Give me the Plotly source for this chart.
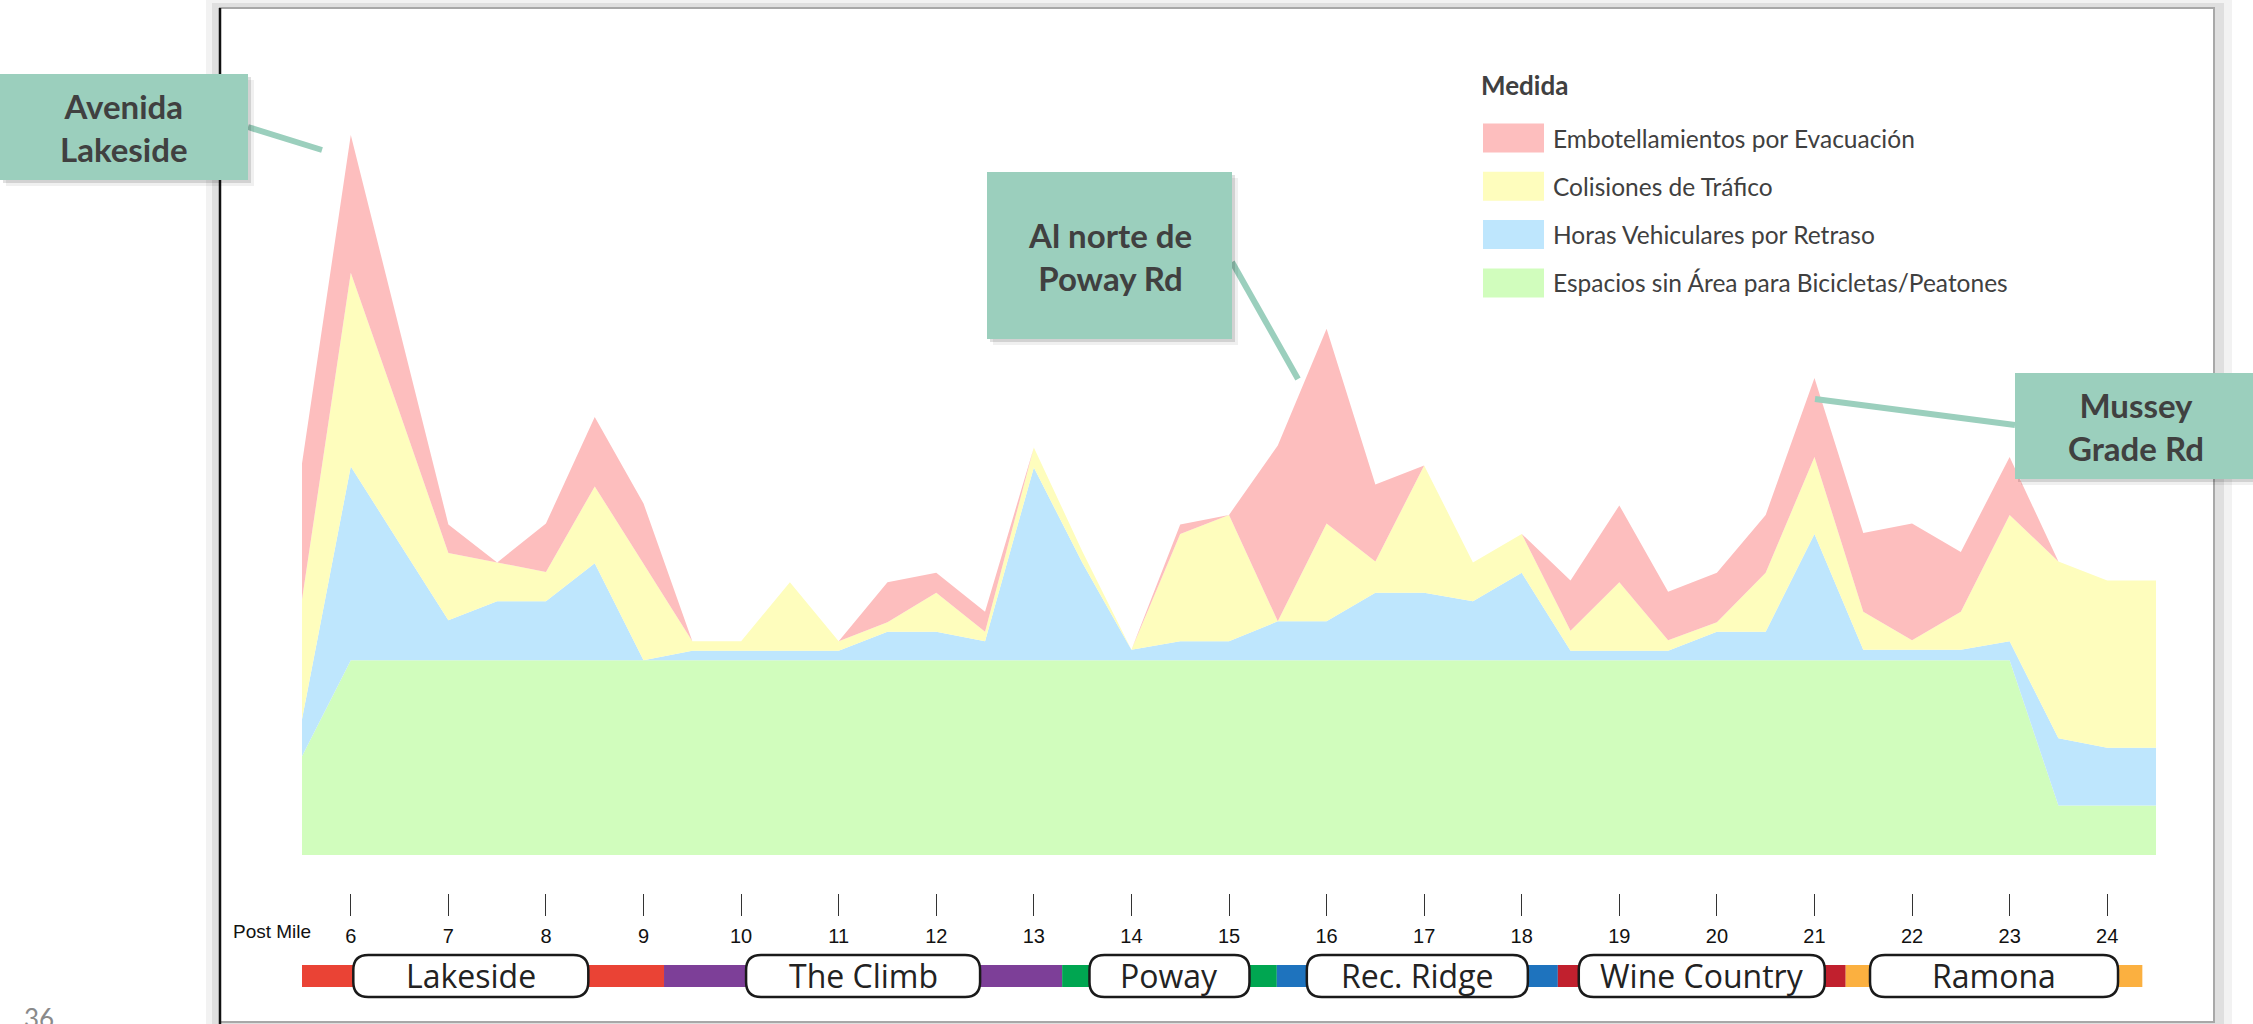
import plotly.graph_objects as go

# --------------------------
# Data (post mile, half-mile steps; stacked index units)
# --------------------------

post_mile = [5.5, 6, 6.5, 7, 7.5, 8, 8.5, 9, 9.5, 10, 10.5, 11, 11.5, 12, 12.5,
             13, 13.5, 14, 14.5, 15, 15.5, 16, 16.5, 17, 17.5, 18, 18.5, 19,
             19.5, 20, 20.5, 21, 21.5, 22, 22.5, 23, 23.5, 24, 24.5]

bike_ped_gaps = [10.4] + [20.5] * 35 + [5.2, 5.2, 5.2]

delay_hours = [3.9, 20.4, 12.3, 4.2, 6.2, 6.2, 10.2, 0, 1.0, 1.0, 1.0, 1.0, 3.0,
               3.0, 2.0, 20.3, 10.2, 1.1, 2.0, 2.0, 4.1, 4.1, 7.1, 7.1, 6.2,
               9.2, 1.0, 1.0, 1.0, 3.0, 3.0, 13.3, 1.1, 1.1, 1.1, 2.0, 7.1,
               6.1, 6.1]

collisions = [12.6, 20.4, 13.8, 7.1, 4.1, 3.1, 8.1, 10.1, 1.0, 1.0, 7.2, 1.0,
              1.0, 4.1, 1.0, 2.1, 1.2, 0, 11.3, 13.3, 0, 10.3, 3.3, 13.4, 4.1,
              4.1, 2.1, 7.2, 1.1, 1.0, 6.2, 8.1, 4.0, 1.0, 4.0, 13.3, 18.6,
              17.6, 17.6]

evac_bottlenecks = [14.3, 14.5, 8.7, 3.0, 0, 5.1, 7.3, 6.4, 0, 0, 0, 0, 4.2,
                    2.1, 2.1, 0, 0, 0, 1.0, 0, 18.5, 20.5, 8.1, 0, 0, 0, 5.3,
                    8.1, 5.1, 5.2, 6.1, 8.3, 8.3, 12.3, 6.3, 6.1, 0, 0, 0]

series_names = ["Espacios sin Área para Bicicletas/Peatones",
                "Horas Vehiculares por Retraso",
                "Colisiones de Tráfico",
                "Embotellamientos por Evacuación"]

segment_names = ["Lakeside", "The Climb", "Poway", "Rec. Ridge",
                 "Wine Country", "Ramona"]
segment_start = [5.25, 9.21, 13.29, 15.49, 18.37, 21.32]
segment_end = [9.21, 13.29, 15.49, 18.37, 21.32, 24.36]

callout_texts = ["Avenida<br>Lakeside", "Al norte de<br>Poway Rd",
                 "Mussey<br>Grade Rd"]

# --------------------------
# Styles
# --------------------------

W, H = 2253, 1024
series_colors = ["#D1FDBD", "#BEE6FD", "#FEFDBD", "#FDBEBE"]
segment_colors = ["#EA4335", "#7D3F98", "#00A651", "#1E73BE", "#C1202E",
                  "#FBB040"]
pill_widths = [235, 234, 160, 221, 246, 248]
teal = "#9BCFBD"
dark = "#404040"

x_dom = [302 / W, 2156 / W]
y_dom = [(H - 855) / H, (H - 120) / H]
y_top = 735 / 9.5
mile_px = (x_dom[1] - x_dom[0]) * W / (post_mile[-1] - post_mile[0])


def px(x):
    return x / W


def py(y):
    return 1 - y / H


fig = go.Figure()

# --------------------------
# Stacked areas
# --------------------------

values = [bike_ped_gaps, delay_hours, collisions, evac_bottlenecks]
for name, vals, color in zip(series_names, values, series_colors):
    fig.add_trace(
        go.Scatter(
            x=post_mile,
            y=vals,
            name=name,
            mode="lines",
            stackgroup="medida",
            line=dict(width=0, color=color),
            fillcolor=color,
            showlegend=False
        )
    )

shapes = []
annotations = []

# --------------------------
# Slide panel with shadow
# --------------------------

shapes.append(dict(type="rect", xref="paper", yref="paper", layer="below",
                   x0=px(206), x1=px(2232), y0=py(1030), y1=py(-2),
                   fillcolor="rgba(0,0,0,0.05)", line=dict(width=0)))
shapes.append(dict(type="rect", xref="paper", yref="paper", layer="below",
                   x0=px(212), x1=px(2224), y0=py(1028), y1=py(3),
                   fillcolor="rgba(0,0,0,0.08)", line=dict(width=0)))
shapes.append(dict(type="rect", xref="paper", yref="paper", layer="below",
                   x0=px(220), x1=px(2214), y0=py(1022), y1=py(8),
                   fillcolor="white", line=dict(color="#A8A8A8", width=2)))
shapes.append(dict(type="line", xref="paper", yref="paper", layer="below",
                   x0=px(220), x1=px(220), y0=py(1024), y1=py(8),
                   line=dict(color="#111111", width=2.5)))

# --------------------------
# Legend
# --------------------------

annotations.append(dict(xref="paper", yref="paper", x=px(1479), y=py(85),
                        xanchor="left", yanchor="middle", showarrow=False,
                        text="<b>Medida</b>",
                        font=dict(family="Lato", size=26, color=dark)))
legend_items = list(zip(series_names, series_colors))[::-1]
for i, (name, color) in enumerate(legend_items):
    yc = 138 + 48.3 * i
    shapes.append(dict(type="rect", xref="paper", yref="paper",
                       x0=px(1483), x1=px(1544), y0=py(yc + 14.5),
                       y1=py(yc - 14.5), fillcolor=color, line=dict(width=0)))
    annotations.append(dict(xref="paper", yref="paper", x=px(1551), y=py(yc),
                            xanchor="left", yanchor="middle", showarrow=False,
                            text=name,
                            font=dict(family="Lato", size=24.5, color=dark)))

# --------------------------
# Route segments
# --------------------------

r = 15
rx = r / mile_px
ry = r / H
for name, s, e, color, w in zip(segment_names, segment_start, segment_end,
                                segment_colors, pill_widths):
    shapes.append(dict(type="rect", xref="x", yref="paper", x0=s, x1=e,
                       y0=py(987), y1=py(965), fillcolor=color,
                       line=dict(width=0)))
    c = (s + e) / 2
    half = w / 2 / mile_px
    x0, x1 = c - half, c + half
    y0, y1 = py(997), py(955)
    path = (f"M{x0 + rx},{y1} L{x1 - rx},{y1} Q{x1},{y1} {x1},{y1 - ry} "
            f"L{x1},{y0 + ry} Q{x1},{y0} {x1 - rx},{y0} L{x0 + rx},{y0} "
            f"Q{x0},{y0} {x0},{y0 + ry} L{x0},{y1 - ry} Q{x0},{y1} {x0 + rx},{y1} Z")
    shapes.append(dict(type="path", xref="x", yref="paper", path=path,
                       fillcolor="white", line=dict(color="#1A1A1A", width=2.5)))
    annotations.append(dict(xref="x", yref="paper", x=c, y=py(975),
                            xanchor="center", yanchor="middle",
                            showarrow=False, text=name,
                            font=dict(family="Open Sans", size=32,
                                      color="#222222")))

annotations.append(dict(xref="paper", yref="paper", x=px(231), y=py(931),
                        xanchor="left", yanchor="middle", showarrow=False,
                        text="Post Mile",
                        font=dict(family="Liberation Sans Narrow, Liberation Sans",
                                  size=19, color="#111111")))

annotations.append(dict(xref="paper", yref="paper", x=px(22), y=py(1000),
                        xanchor="left", yanchor="top", showarrow=False,
                        text="36",
                        font=dict(family="Lato", size=26, color="#8A8A8A")))

# --------------------------
# Callouts
# --------------------------

callout_boxes = [(0, 74, 248, 180), (987, 172, 1232, 339),
                 (2015, 373, 2260, 479)]
callout_lines = [(248, 127, 322, 150), (1232, 262, 1298, 379),
                 (2015, 425, 1815, 399)]
callout_centers = [(124, 127), (1110, 256), (2136, 426)]

for text, box, ln, cen in zip(callout_texts, callout_boxes, callout_lines,
                              callout_centers):
    shapes.append(dict(type="line", xref="paper", yref="paper",
                       x0=px(ln[0]), y0=py(ln[1]), x1=px(ln[2]), y1=py(ln[3]),
                       line=dict(color=teal, width=6)))
    for off, alpha in [(6, 0.06), (3, 0.12)]:
        shapes.append(dict(type="rect", xref="paper", yref="paper",
                           x0=px(box[0] + off), x1=px(box[2] + off),
                           y0=py(box[3] + off), y1=py(box[1] + off),
                           fillcolor=f"rgba(0,0,0,{alpha})",
                           line=dict(width=0)))
    shapes.append(dict(type="rect", xref="paper", yref="paper",
                       x0=px(box[0]), x1=px(box[2]),
                       y0=py(box[3]), y1=py(box[1]),
                       fillcolor=teal, line=dict(width=0)))
    annotations.append(dict(xref="paper", yref="paper", x=px(cen[0]),
                            y=py(cen[1]), xanchor="center", yanchor="middle",
                            showarrow=False,
                            text=f"<b>{text}</b>",
                            font=dict(family="Lato", size=33, color=dark)))

# --------------------------
# Layout
# --------------------------

fig.update_layout(
    width=W,
    height=H,
    margin=dict(l=0, r=0, t=0, b=0, autoexpand=False),
    paper_bgcolor="white",
    plot_bgcolor="rgba(0,0,0,0)",
    showlegend=False,
    shapes=shapes,
    annotations=annotations,
    xaxis=dict(
        domain=x_dom,
        range=[post_mile[0], post_mile[-1]],
        anchor="free",
        position=py(893),
        tickvals=[m for m in post_mile if m == int(m)],
        ticks="outside",
        ticklen=22,
        tickwidth=1,
        tickcolor="#333333",
        ticklabelstandoff=3,
        tickfont=dict(family="Liberation Sans Narrow, Liberation Sans",
                      size=20, color="#111111"),
        showline=False,
        showgrid=False,
        zeroline=False
    ),
    yaxis=dict(
        domain=y_dom,
        range=[0, y_top],
        visible=False
    )
)

fig.write_html("out.html", config={"displayModeBar": False},
               post_script="document.body.style.margin='0';")
